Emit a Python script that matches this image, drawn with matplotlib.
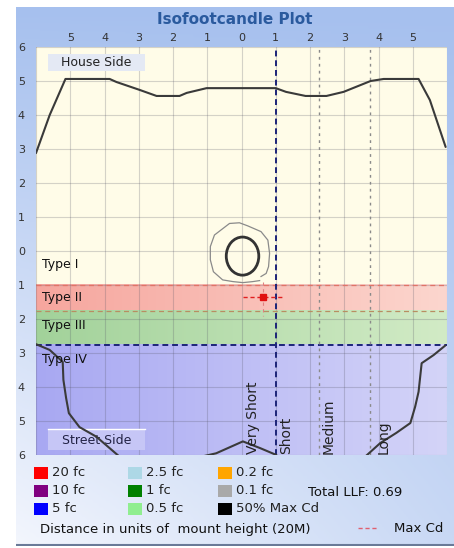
import numpy as np
import matplotlib
matplotlib.use("Agg")
import matplotlib.pyplot as plt
from matplotlib.colors import LinearSegmentedColormap
from matplotlib.patches import Rectangle, Ellipse

# ----------------------------------------------------------------------
# --- Data ---
x_ticks = [-5, -4, -3, -2, -1, 0, 1, 2, 3, 4, 5]
x_tick_labels = ["5", "4", "3", "2", "1", "0", "1", "2", "3", "4", "5"]
y_ticks = [6, 5, 4, 3, 2, 1, 0, -1, -2, -3, -4, -5, -6]
y_tick_labels = ["6", "5", "4", "3", "2", "1", "0", "1", "2", "3", "4", "5", "6"]

# lateral classification bands (Type I..IV), in mounting heights
type_names = ["Type I", "Type II", "Type III", "Type IV"]
type_label_y = [-0.41, -1.38, -2.18, -3.2]
type_bounds = [-1.0, -1.75, -2.75, -6.0]

# longitudinal classification boundaries
range_names = ["Very Short", "Short", "Medium", "Long"]
range_label_x = [0.35, 1.31, 2.54, 4.15]
range_bounds = [1.0, 2.25, 3.75]

# 50% max candela trace, house side
house_x = [-6.0, -5.6, -5.14, -3.85, -3.65, -2.98, -2.48, -1.81, -1.6, -1.02,
           1.0, 1.3, 1.87, 2.48, 2.98, 3.77, 4.15, 5.17, 5.5, 5.96]
house_y = [2.88, 4.0, 5.06, 5.06, 4.97, 4.74, 4.56, 4.56, 4.65, 4.79,
           4.79, 4.68, 4.56, 4.56, 4.68, 5.0, 5.06, 5.06, 4.44, 3.06]

# 50% max candela trace, street side (three pieces)
street_left_x = [-6.0, -5.6, -5.22, -5.2, -5.12, -5.04, -4.73, -4.24, -3.56]
street_left_y = [-2.74, -2.91, -3.26, -3.79, -4.33, -4.77, -5.18, -5.46, -6.05]
street_mid_x = [-1.18, -0.74, 0.04, 0.55, 1.02]
street_mid_y = [-6.05, -5.95, -5.6, -5.8, -6.0]
street_right_x = [3.61, 4.05, 4.52, 4.93, 5.07, 5.17, 5.26, 5.61, 5.95]
street_right_y = [-6.05, -5.65, -5.35, -5.06, -4.58, -4.14, -3.3, -3.06, -2.78]

# isofootcandle contours
outer_x = [0.57, 0.72, 0.79, 0.82, 0.77, 0.57, 0.18, -0.06, -0.35, -0.79,
           -0.91, -0.91, -0.82, -0.55, -0.25, 0.04, 0.33, 0.53]
outer_y = [-0.75, -0.66, -0.46, -0.07, 0.32, 0.57, 0.74, 0.83, 0.81, 0.47,
           0.13, -0.26, -0.61, -0.85, -0.9, -0.93, -0.9, -0.87]
inner_center = (0.03, -0.15)
inner_size = (0.95, 1.12)

# max candela point and its cross hairs
max_cd_x = 0.64
max_cd_y = -1.34
max_cd_h = [0.03, 1.17]
max_cd_v = [-0.92, -1.9]

legend_labels = ["20 fc", "10 fc", "5 fc", "2.5 fc", "1 fc", "0.5 fc",
                 "0.2 fc", "0.1 fc", "50% Max Cd"]
legend_colors = ["#ff0000", "#800080", "#0000ff", "#add8e6", "#008000",
                 "#90ee90", "#ffa500", "#a9a9a9", "#000000"]
total_llf = 0.69

W, H = 454, 548


def fx(px):
    return px / W


def fy(py):
    return 1 - py / H


def band(ax, y0, y1, c_left, c_right):
    cmap = LinearSegmentedColormap.from_list("b", [c_left, c_right])
    ax.imshow(np.linspace(0, 1, 256).reshape(1, -1), extent=[-6, 6, y1, y0],
              cmap=cmap, aspect="auto", zorder=0, interpolation="bilinear")


fig = plt.figure(figsize=(W / 100, H / 100), dpi=100)
fig.patch.set_facecolor("white")

# ----------------------------------------------------------------------
# --- Panel background (blue gradient) ---
bg = fig.add_axes([fx(16), fy(546), fx(438), 539 / H])
xx, yy = np.meshgrid(np.linspace(0, 1, 200), np.linspace(0, 1, 200))
t = yy * (1 - 0.55 * xx)
bg_cmap = LinearSegmentedColormap.from_list("panel", ["#a6c0ee", "#f3f6fd"])
bg.imshow(t, cmap=bg_cmap, aspect="auto", extent=[0, 1, 0, 1], origin="upper")
bg.set_xlim(0, 1)
bg.set_ylim(0, 1)
bg.axis("off")
bg.plot([0, 1], [0.002, 0.002], color="#6a7a98", lw=1.5)

# ----------------------------------------------------------------------
# --- Main plot ---
ax = fig.add_axes([fx(36), fy(455), fx(411), 408 / H])
ax.set_facecolor("#fffce8")
band(ax, type_bounds[0], type_bounds[1], "#f6a69e", "#fcd6ce")
band(ax, type_bounds[1], type_bounds[2], "#a2d29a", "#d2ebc6")
band(ax, type_bounds[2], type_bounds[3], "#a8a8f2", "#d4d4f8")

for v in y_ticks:
    ax.axhline(v, color="#555566", lw=0.8, alpha=0.25, zorder=1)
for v in range(-6, 7):
    ax.axvline(v, color="#555566", lw=0.8, alpha=0.25, zorder=1)

ax.axhline(type_bounds[0], color="#e07468", lw=0.9, ls=(0, (4, 3)), zorder=2)
ax.axhline(type_bounds[1], color="#b88e62", lw=0.9, ls=(0, (4, 3)), zorder=2)
ax.axhline(type_bounds[2], color="#1c2478", lw=1.4, ls=(0, (3, 2)), zorder=2)
ax.axvline(range_bounds[0], color="#1c2478", lw=1.4, ls=(0, (3, 2)), zorder=2)
for v in range_bounds[1:]:
    ax.axvline(v, color="#8a8a8a", lw=1.0, ls=(0, (2, 3)), zorder=2)

# side boxes
ax.add_patch(Rectangle((-5.65, 5.28), 2.83, 0.5, facecolor="#e4e9f4",
                       edgecolor="none", zorder=3))
ax.text(-4.24, 5.53, "House Side", ha="center", va="center", fontsize=9,
        color="#222222", zorder=4)
ax.add_patch(Rectangle((-5.65, -5.85), 2.83, 0.61, facecolor="#c6c6f6",
                       edgecolor="none", zorder=3))
ax.plot([-5.65, -2.82], [-5.24, -5.24], color="white", lw=1, zorder=3)
ax.text(-4.24, -5.56, "Street Side", ha="center", va="center", fontsize=9,
        color="#222244", zorder=4)

# candela traces
trace = dict(color="#3a3a3a", lw=1.5, zorder=5, solid_capstyle="round")
ax.plot(house_x, house_y, **trace)
ax.plot(street_left_x, street_left_y, **trace)
ax.plot(street_mid_x, street_mid_y, **trace)
ax.plot(street_right_x, street_right_y, **trace)

ax.plot(outer_x, outer_y, color="#8a8a8a", lw=0.9, zorder=5)
ax.add_patch(Ellipse(inner_center, inner_size[0], inner_size[1], fill=False,
                     edgecolor="#333333", lw=2.0, zorder=5))

# max cd
ax.plot(max_cd_h, [max_cd_y, max_cd_y], color="#e02020", lw=1.0,
        ls=(0, (3, 2)), zorder=6)
ax.plot([max_cd_x, max_cd_x], max_cd_v, color="#e08080", lw=0.8,
        ls=(0, (3, 3)), zorder=6)
ax.plot([max_cd_x], [max_cd_y], marker="s", ms=5, color="#e01010", zorder=7)

for name, yv in zip(type_names, type_label_y):
    ax.text(-5.83, yv, name, ha="left", va="center", fontsize=9,
            color="#111111", zorder=6)
for name, xv in zip(range_names, range_label_x):
    ax.text(xv, -5.97, name, ha="center", va="bottom", rotation=90,
            fontsize=10, color="#222222", zorder=6)

ax.set_xlim(-6, 6)
ax.set_ylim(-6, 6)
ax.xaxis.tick_top()
ax.set_xticks(x_ticks)
ax.set_xticklabels(x_tick_labels)
ax.set_yticks(y_ticks)
ax.set_yticklabels(y_tick_labels)
ax.tick_params(length=0, labelsize=8, colors="#333333")
ax.tick_params(axis="x", pad=3)
ax.tick_params(axis="y", pad=8)
for s in ax.spines.values():
    s.set_visible(False)

# ----------------------------------------------------------------------
# --- Title and legend ---
fig.text(fx(235), fy(20), "Isofootcandle Plot", ha="center", va="center",
         fontsize=11, fontweight="bold", color="#2a5a9e")

col_x = [34, 128, 218]
row_y = [473, 491, 509]
for i, (lab, col) in enumerate(zip(legend_labels, legend_colors)):
    cx = col_x[i // 3]
    cy = row_y[i % 3]
    fig.patches.append(Rectangle((fx(cx), fy(cy + 6)), 14 / W, 12 / H,
                                 facecolor=col, edgecolor="none",
                                 transform=fig.transFigure, figure=fig))
    fig.text(fx(cx + 18), fy(cy), lab, ha="left", va="center", fontsize=9.5,
             color="#222222")

fig.text(fx(308), fy(492), f"Total LLF: {total_llf:.2f}", ha="left",
         va="center", fontsize=9.5, color="#111111")
fig.text(fx(40), fy(529), "Distance in units of  mount height (20M)",
         ha="left", va="center", fontsize=9.5, color="#111111")
fig.lines.append(plt.Line2D([fx(358), fx(378)], [fy(528), fy(528)],
                            color="#e06070", lw=1, ls=(0, (3, 2)),
                            transform=fig.transFigure, figure=fig))
fig.text(fx(443), fy(529), "Max Cd", ha="right", va="center", fontsize=9.5,
         color="#111111")

fig.savefig("out.png", dpi=100)
